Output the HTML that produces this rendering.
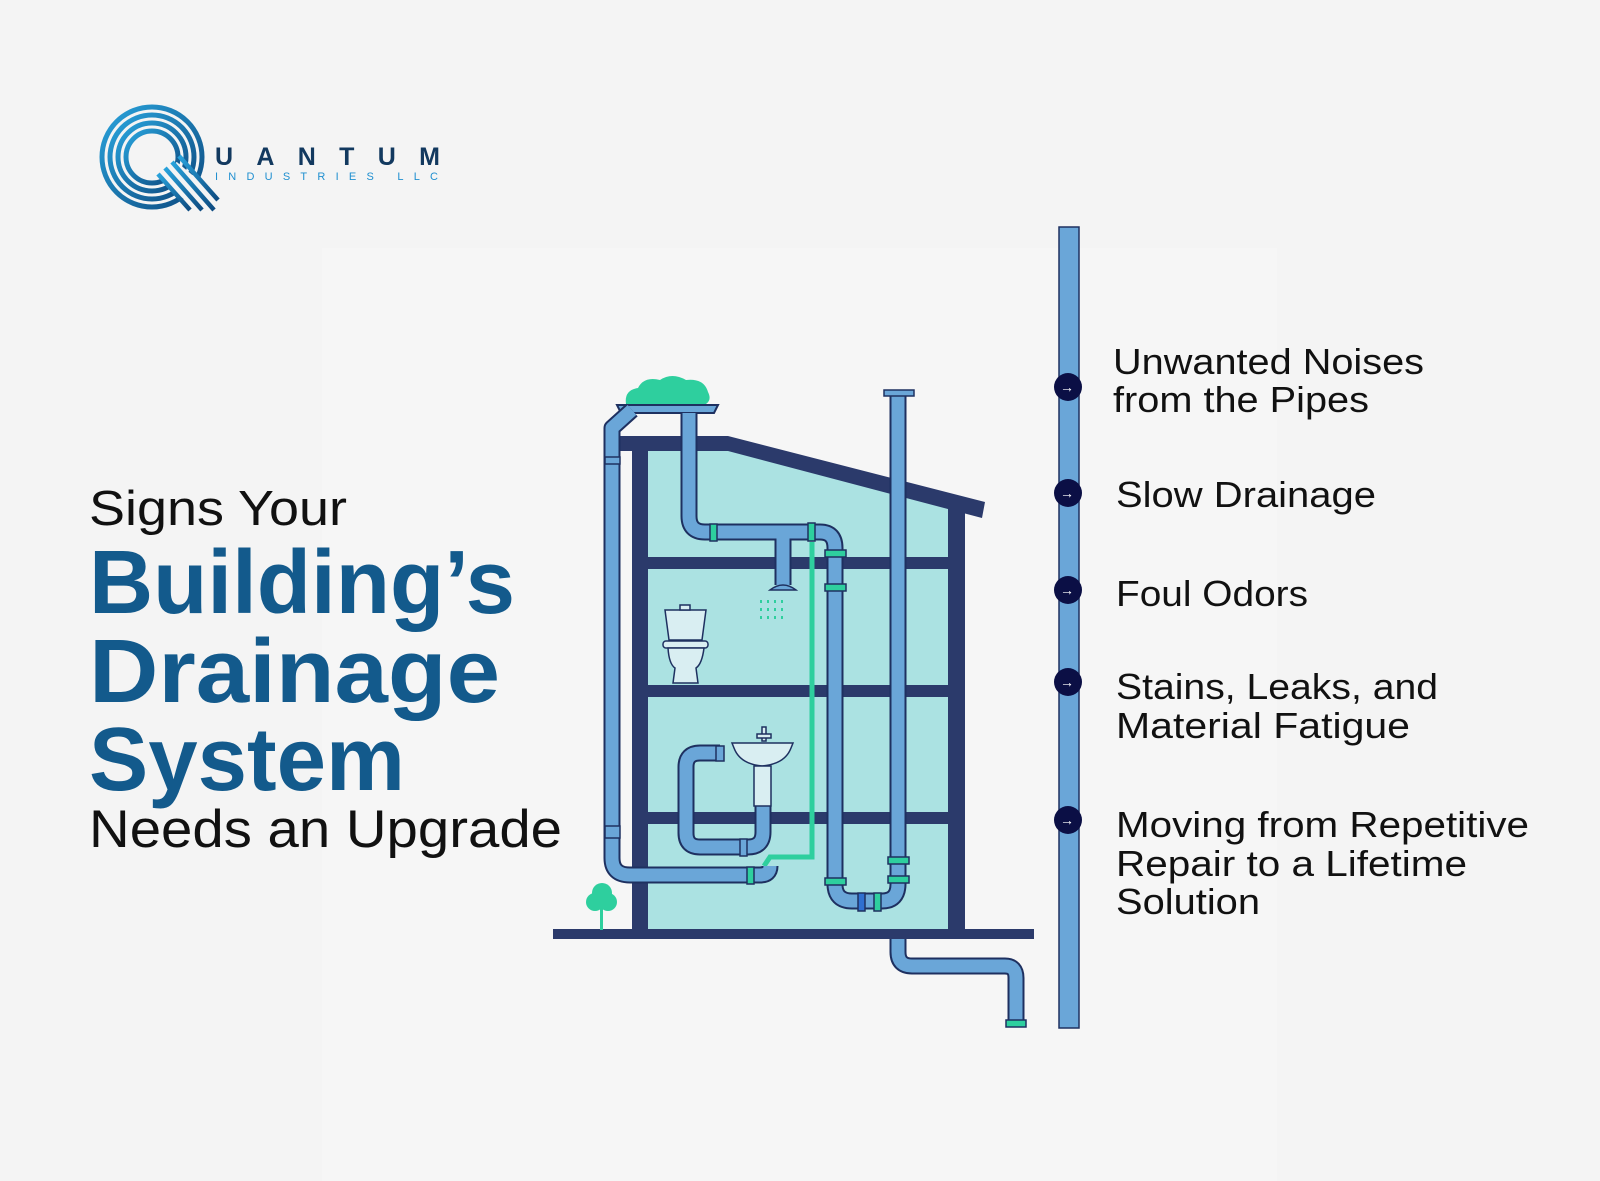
<!DOCTYPE html>
<html><head><meta charset="utf-8"><style>
html,body{margin:0;padding:0;background:#f4f4f4;}
svg{display:block;}
text{font-family:"Liberation Sans",sans-serif;}
</style></head><body>
<svg width="1600" height="1181" viewBox="0 0 1600 1181" xmlns="http://www.w3.org/2000/svg">
<defs>
<linearGradient id="lg" x1="0" y1="0" x2="1" y2="1">
<stop offset="0" stop-color="#29a3dc"/><stop offset="1" stop-color="#0d4a80"/>
</linearGradient>
</defs>
<rect width="1600" height="1181" fill="#f4f4f4"/>
<rect x="322" y="248" width="955" height="933" fill="#f6f6f6"/>

<!-- Logo -->
<g fill="none" stroke="url(#lg)" stroke-width="5">
<circle cx="152" cy="157" r="50"/>
<circle cx="152" cy="157" r="42"/>
<circle cx="152" cy="157" r="34"/>
<circle cx="152" cy="157" r="26"/>
</g>
<rect x="165" y="170" width="34" height="24" fill="#f4f4f4" transform="rotate(40 182 182)"/>
<g stroke="url(#lg)" stroke-width="4.5" fill="none">
<path d="M158 174 L190 210"/><path d="M165 168 L202 210"/><path d="M172 162 L214 210"/><path d="M179 156 L218 200"/>
</g>
<text x="215" y="165" font-size="25" font-weight="bold" fill="#12395f" textLength="225" lengthAdjust="spacing">UANTUM</text>
<text x="215" y="180" font-size="11" fill="#1f8fd0" textLength="223" lengthAdjust="spacing">INDUSTRIES LLC</text>

<!-- Title -->
<text x="89" y="525" font-size="49" fill="#111" textLength="258" lengthAdjust="spacingAndGlyphs">Signs Your</text>
<text x="89" y="613" font-size="90" font-weight="bold" fill="#135a8c" textLength="426" lengthAdjust="spacingAndGlyphs">Building’s</text>
<text x="89" y="702" font-size="90" font-weight="bold" fill="#135a8c" textLength="411" lengthAdjust="spacingAndGlyphs">Drainage</text>
<text x="89" y="790" font-size="90" font-weight="bold" fill="#135a8c" textLength="316" lengthAdjust="spacingAndGlyphs">System</text>
<text x="89" y="847" font-size="53" fill="#111" textLength="473" lengthAdjust="spacingAndGlyphs">Needs an Upgrade</text>

<!-- Building -->
<path d="M648 449 L728 449 L952 506 L952 929 L648 929 Z" fill="#abe2e2"/>
<path d="M618 436 L728 436 L985 502 L982 518 L728 451 L618 451 Z" fill="#2b3a6b"/>
<rect x="632" y="440" width="16" height="490" fill="#2b3a6b"/>
<rect x="948" y="505" width="17" height="425" fill="#2b3a6b"/>
<rect x="632" y="557" width="333" height="12" fill="#2b3a6b"/>
<rect x="632" y="685" width="333" height="12" fill="#2b3a6b"/>
<rect x="632" y="812" width="333" height="12" fill="#2b3a6b"/>
<rect x="553" y="929" width="481" height="10" fill="#2b3a6b"/>

<!-- cloud & gutter -->
<path d="M626 404 Q624 390 638 388 Q644 376 660 380 Q672 372 686 380 Q704 378 708 392 Q712 400 706 404 Z" fill="#2ecf9e"/>
<path d="M617 405 L718 405 L714 413 L621 413 Z" fill="#6aa6d8" stroke="#1e3060" stroke-width="2"/>

<!-- tree -->
<rect x="600" y="905" width="3" height="25" fill="#2ecf9e"/>
<circle cx="595" cy="902" r="9" fill="#2ecf9e"/><circle cx="608" cy="902" r="9" fill="#2ecf9e"/><circle cx="602" cy="893" r="10" fill="#2ecf9e"/>

<!-- green line -->
<path d="M812 542 L812 857 L770 857 L764 866" fill="none" stroke="#2ecf9e" stroke-width="5"/>

<!-- pipes -->
<g fill="none" stroke-linejoin="round" stroke-linecap="butt">
<g stroke="#1e3060" stroke-width="17">
<path d="M632 410 L612 428 L612 858 Q612 875 630 875 L760 875 Q770 875 770 866"/>
<path d="M689 413 L689 516 Q689 532 705 532 L820 532 Q835 532 835 548 L835 884 Q835 901 852 901 L882 901 Q898 901 898 884 L898 393"/>
<path d="M720 753 L700 753 Q686 753 686 767 L686 833 Q686 847 700 847 L748 847 Q763 847 763 832 L763 806"/>
<path d="M898 939 L898 952 Q898 966 912 966 L1005 966 Q1016 966 1016 978 L1016 1025"/>
<path d="M783 535 L783 585"/>
</g>
<g stroke="#6aa6d8" stroke-width="13">
<path d="M632 410 L612 428 L612 858 Q612 875 630 875 L760 875 Q770 875 770 866"/>
<path d="M689 413 L689 516 Q689 532 705 532 L820 532 Q835 532 835 548 L835 884 Q835 901 852 901 L882 901 Q898 901 898 884 L898 393"/>
<path d="M720 753 L700 753 Q686 753 686 767 L686 833 Q686 847 700 847 L748 847 Q763 847 763 832 L763 806"/>
<path d="M898 939 L898 952 Q898 966 912 966 L1005 966 Q1016 966 1016 978 L1016 1025"/>
<path d="M783 535 L783 585"/>
</g>
</g>
<!-- caps / fittings -->
<g stroke="#1e3060" stroke-width="1.5">
<rect x="884" y="390" width="30" height="6" fill="#6aa6d8"/>
<rect x="1006" y="1020" width="20" height="7" fill="#2ecf9e"/>
<rect x="605" y="457" width="15" height="7" fill="#6aa6d8"/>
<rect x="605" y="826" width="15" height="12" fill="#6aa6d8"/>
<rect x="710" y="524" width="7" height="17" fill="#2ecf9e"/>
<rect x="808" y="523" width="7" height="18" fill="#2ecf9e"/>
<rect x="825" y="550" width="21" height="7" fill="#2ecf9e"/>
<rect x="825" y="584" width="21" height="7" fill="#2ecf9e"/>
<rect x="825" y="878" width="21" height="7" fill="#2ecf9e"/>
<rect x="888" y="857" width="21" height="7" fill="#2ecf9e"/>
<rect x="888" y="876" width="21" height="7" fill="#2ecf9e"/>
<rect x="858" y="893" width="7" height="18" fill="#2f6fd0"/>
<rect x="874" y="893" width="7" height="18" fill="#2ecf9e"/>
<rect x="747" y="867" width="7" height="17" fill="#2ecf9e"/>
<rect x="740" y="839" width="7" height="17" fill="#6aa6d8"/>
<rect x="716" y="746" width="8" height="15" fill="#6aa6d8"/>
</g>
<!-- shower head -->
<path d="M770 590 Q783 580 796 590 Z" fill="#6aa6d8" stroke="#1e3060" stroke-width="1.5"/>
<g fill="#2ecf9e">
<rect x="760" y="600" width="2" height="3"/><rect x="767" y="600" width="2" height="3"/><rect x="774" y="600" width="2" height="3"/><rect x="781" y="600" width="2" height="3"/>
<rect x="760" y="608" width="2" height="3"/><rect x="767" y="608" width="2" height="3"/><rect x="774" y="608" width="2" height="3"/><rect x="781" y="608" width="2" height="3"/>
<rect x="760" y="616" width="2" height="3"/><rect x="767" y="616" width="2" height="3"/><rect x="774" y="616" width="2" height="3"/><rect x="781" y="616" width="2" height="3"/>
</g>
<!-- toilet -->
<g fill="#d9eef2" stroke="#1e3060" stroke-width="1.5">
<path d="M665 610 L706 610 L702 640 L669 640 Z"/>
<rect x="680" y="605" width="10" height="5"/>
<rect x="663" y="641" width="45" height="7" rx="3"/>
<path d="M668 648 L704 648 Q702 664 696 668 L698 683 L673 683 L675 668 Q669 664 668 648 Z"/>
</g>
<!-- sink -->
<g fill="#d9eef2" stroke="#1e3060" stroke-width="1.5">
<rect x="762" y="727" width="4" height="14"/><rect x="757" y="734" width="14" height="4"/>
<path d="M732 743 L793 743 L791 748 Q785 764 762 766 Q740 764 734 748 Z"/>
<rect x="754" y="766" width="17" height="40"/>
</g>

<!-- timeline -->
<rect x="1059" y="227" width="20" height="801" fill="#6aa6d8" stroke="#1e3060" stroke-width="1.5"/>
<g fill="#0b0f45">
<ellipse cx="1068" cy="387" rx="14" ry="14"/>
<ellipse cx="1068" cy="493" rx="14" ry="14"/>
<ellipse cx="1068" cy="590" rx="14" ry="14"/>
<ellipse cx="1068" cy="682" rx="14" ry="14"/>
<ellipse cx="1068" cy="820" rx="14" ry="14"/>
</g>
<g fill="#fff" font-size="14">
<text x="1060" y="392">→</text><text x="1060" y="498">→</text><text x="1060" y="595">→</text><text x="1060" y="687">→</text><text x="1060" y="825">→</text>
</g>
<g font-size="36" fill="#111">
<text x="1113" y="374" textLength="311" lengthAdjust="spacingAndGlyphs">Unwanted Noises</text>
<text x="1113" y="412" textLength="256" lengthAdjust="spacingAndGlyphs">from the Pipes</text>
<text x="1116" y="507" textLength="260" lengthAdjust="spacingAndGlyphs">Slow Drainage</text>
<text x="1116" y="606" textLength="192" lengthAdjust="spacingAndGlyphs">Foul Odors</text>
<text x="1116" y="699" textLength="322" lengthAdjust="spacingAndGlyphs">Stains, Leaks, and</text>
<text x="1116" y="738" textLength="294" lengthAdjust="spacingAndGlyphs">Material Fatigue</text>
<text x="1116" y="837" textLength="413" lengthAdjust="spacingAndGlyphs">Moving from Repetitive</text>
<text x="1116" y="876" textLength="351" lengthAdjust="spacingAndGlyphs">Repair to a Lifetime</text>
<text x="1116" y="914" textLength="144" lengthAdjust="spacingAndGlyphs">Solution</text>
</g>
</svg>
</body></html>
